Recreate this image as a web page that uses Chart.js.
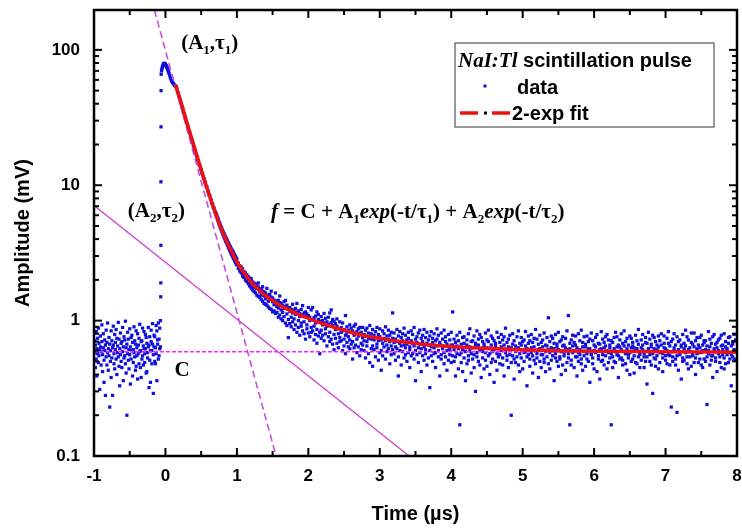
<!DOCTYPE html>
<html><head><meta charset="utf-8">
<script src="https://cdn.jsdelivr.net/npm/chart.js@4.4.0/dist/chart.umd.min.js"></script>
<style>html,body{margin:0;padding:0;background:#fff}#wrap{width:742px;height:528px}canvas{display:block}</style>
</head><body><div id="wrap"><canvas id="c" width="742" height="528"></canvas></div>
<script>
// ---- axis ticks ----
const xMajorTicks = [-1,0,1,2,3,4,5,6,7,8];
const xMinorTicks = [-0.5,0.5,1.5,2.5,3.5,4.5,5.5,6.5,7.5];
const yMajorTicks = [0.1,1,10,100];
const yMinorTicks = [0.2,0.3,0.4,0.5,0.6,0.7,0.8,0.9,2,3,4,5,6,7,8,9,20,30,40,50,60,70,80,90];
const yTickLabels = ['0.1','1','10','100'];

// ---- measured data: rows are [time(us), amplitude(mV), ...] ----
const prePulse = [
[-0.99,.58,.71],[-0.98,.45,.66],[-0.97,.83,.52],[-0.96,.62,.39],[-0.95,.74,.57],[-0.94,.49,.88],[-0.93,.68,.55],[-0.92,.31,.61],[-0.91,.77,.64],[-0.90,.47,.59],
[-0.89,.93,.70],[-0.88,.56,.42],[-0.87,.63,.80],[-0.86,.51,.35],[-0.85,.72,.60],[-0.84,.28,.66],[-0.83,.54,.85],[-0.82,.69,.47],[-0.81,.58,.96],[-0.80,.43,.62],
[-0.79,.75,.55],[-0.78,.23,.67],[-0.77,.60,.50],[-0.76,.84,.38],[-0.75,.53,.71],[-0.74,.28,.63],[-0.73,.66,.91],[-0.72,.48,.57],[-0.71,.79,.44],[-0.70,.61,.69],
[-0.69,.52,.86],[-0.68,.74,.40],[-0.67,.58,.65],[-0.66,.97,.54],[-0.65,.46,.73],[-0.64,.62,.33],[-0.63,.81,.56],[-0.62,.50,.68],[-0.61,.70,.45],[-0.60,.59,.89],
[-0.59,.36,.64],[-0.58,.76,.53],[-0.57,.55,.72],[-0.56,.99,.48],[-0.55,.63,.41],[-0.54,.20,.67],[-0.53,.57,.82],[-0.52,.73,.51],[-0.51,.44,.61],[-0.50,.87,.56],
[-0.49,.64,.34],[-0.48,.52,.75],[-0.47,.78,.60],[-0.46,.39,.69],[-0.45,.61,.49],[-0.44,.90,.58],[-0.43,.54,.71],[-0.42,.67,.43],[-0.41,.46,.84],[-0.40,.63,.55],
[-0.39,.80,.37],[-0.38,.57,.66],[-0.37,.48,.74],[-0.36,.94,.59],[-0.35,.60,.45],[-0.34,.38,.70],[-0.33,.71,.52],[-0.32,.55,.88],[-0.31,.65,.47],[-0.30,.83,.62],
[-0.29,.49,.57],[-0.28,.62,.79],[-0.27,.75,.41],[-0.26,.42,.68],[-0.25,.58,.53],[-0.24,.89,.64],[-0.23,.66,.32],[-0.22,.51,.76],[-0.21,.35,.60],[-0.20,.70,.85],
[-0.19,.60,.48],[-0.18,.95,.67],[-0.17,.29,.56],[-0.16,.64,.78],[-0.15,.76,.50],[-0.14,.48,.63],[-0.13,.57,.92],[-0.12,.84,.36],[-0.11,.67,.72],[-0.10,.52,.96],
[-0.09,.73,.55],[-0.08,.88,.62],[-0.07,1.0,.64]
];
const risingEdge = [[-0.066,1.5],[-0.065,1.9],[-0.064,3.6],[-0.063,10.6],[-0.062,27],[-0.061,50],[-0.06,66]];
const peakArch = [
[-0.055,70],[-0.05,72],[-0.045,74],[-0.04,75.5],[-0.035,77],[-0.03,78],[-0.025,79],[-0.02,79.5],[-0.015,79.5],[-0.01,79],
[-0.005,78.5],[0,78],[0.005,77],[0.01,76.5],[0.015,75.5],[0.02,74.5],[0.025,73.5],[0.03,72.5],[0.035,71],[0.04,70],
[0.045,68.5],[0.05,67],[0.06,64.5],[0.07,62],[0.08,60],[0.09,58.5],[0.1,57.5],[0.11,56.5],[0.12,55.5],[0.13,54.5],[0.14,54]
];
const earlyDecay = [
[0.15,53.5],[0.16,51.6],[0.17,49.1],[0.18,47.4],[0.19,45.0],[0.20,43.5],[0.21,41.4],[0.22,40.1],[0.23,38.0],[0.24,36.9],
[0.25,35.0],[0.26,33.9],[0.27,32.3],[0.28,31.2],[0.29,29.7],[0.30,28.7],[0.31,27.4],[0.32,26.5],[0.33,25.2],[0.34,24.4],
[0.35,23.2],[0.36,22.5],[0.37,21.4],[0.38,20.7],[0.39,19.7],[0.40,19.1],[0.41,18.2],[0.42,17.7],[0.43,16.8],[0.44,16.3],
[0.45,15.5],[0.46,15.1],[0.47,14.3],[0.48,14.0],[0.49,13.3],[0.50,13.0],[0.51,12.3],[0.52,12.0],[0.53,11.4],[0.54,11.2],
[0.55,10.6],[0.56,10.4],[0.57,9.8],[0.58,9.7],[0.59,9.1],[0.60,9.0],[0.61,8.5],[0.62,8.4],[0.63,7.9],[0.64,7.8],
[0.65,7.35],[0.66,7.3],[0.67,6.85],[0.68,6.8],[0.69,6.4],[0.70,6.35]
];
const midDecay = [
[0.71,6.15,5.95],[0.72,5.80,6.0],[0.73,5.75,5.55],[0.74,5.4,5.62],[0.75,5.38,5.15],[0.76,5.0,5.22],[0.77,5.07,4.82],[0.78,4.92,4.7],[0.79,4.55,4.8],[0.80,4.62,4.38],
[0.81,4.5,4.27],[0.82,4.13,4.4],[0.83,4.28,4.02],[0.84,3.88,4.15],[0.85,4.06,3.8],[0.86,3.7,3.95],[0.87,3.86,3.6],[0.88,3.49,3.75],[0.89,3.68,3.4],[0.90,3.3,3.57],
[0.91,3.5,3.22],[0.92,3.12,3.4],[0.93,3.33,3.05],[0.94,2.98,3.26],[0.95,3.2,2.9],[0.96,2.84,3.1],[0.97,3.05,2.76],[0.98,2.7,2.97],[0.99,2.9,2.62],[1.00,2.58,2.85]
];
const tailNoise = [
[1.02,2.66,2.43,2.58],[1.04,2.32,2.54,2.49],[1.06,2.49,2.25,2.38],[1.08,2.20,2.41,2.13],[1.10,2.30,2.08,2.23],[1.12,1.99,2.21,2.25],[1.14,2.18,1.94,2.07],[1.16,1.87,2.11,2.03],[1.18,2.06,1.80,1.89],[1.20,1.74,1.97,2.04],
[1.22,1.93,1.69,1.78],[1.24,1.64,1.89,1.82],[1.26,1.86,1.60,1.75],[1.28,1.54,1.81,1.72],[1.30,1.77,1.51,1.90],[1.32,1.48,1.68,1.63],[1.34,1.72,1.43,1.54],[1.36,1.39,1.65,1.78],[1.38,1.63,1.34,1.52],[1.40,1.32,1.60,1.45],
[1.42,1.73,1.30,1.49],[1.44,1.26,1.54,1.39],[1.46,1.56,1.23,1.44],[1.48,1.21,1.49,1.65],[1.50,1.47,1.16,1.38],[1.52,1.18,1.42,1.31],[1.54,1.60,1.13,1.35],[1.56,1.15,1.40,1.27],[1.58,1.41,1.06,1.24],[1.60,1.10,1.36,1.52],
[1.62,1.34,1.03,1.20],[1.64,1.00,1.29,1.15],[1.66,1.38,1.07,1.23],[1.68,0.96,1.27,1.41],[1.70,1.30,0.92,1.12],[1.72,1.02,1.24,0.75],[1.74,1.25,0.95,1.17],[1.76,0.90,1.21,1.06],[1.78,1.32,0.98,1.14],[1.80,0.86,1.20,1.03],
[1.82,1.23,0.93,1.11],[1.84,0.82,1.15,1.34],[1.86,1.18,0.89,1.00],[1.88,0.78,1.13,1.07],[1.90,1.21,0.91,0.96],[1.92,0.84,1.10,1.29],[1.94,1.14,0.80,0.98],[1.96,0.73,1.08,1.16],[1.98,1.12,0.87,0.93],[2.00,0.81,1.09,1.25],
[2.02,1.06,0.76,1.00],[2.04,0.89,1.20,0.82],[2.06,1.25,0.84,1.02],[2.08,0.72,1.05,0.91],[2.10,1.08,0.79,0.96],[2.12,0.86,1.16,0.68],[2.14,1.02,0.77,1.11],[2.16,0.82,0.99,0.57],[2.18,1.07,0.85,0.74],[2.20,0.78,1.00,0.93],
[2.22,0.96,0.71,1.13],[2.24,0.80,1.04,0.87],[2.26,0.98,0.65,0.91],[2.28,0.76,0.94,1.06],[2.30,1.14,0.82,0.70],[2.32,0.73,0.97,1.20],[2.34,0.92,0.67,1.02],[2.36,0.79,0.99,0.61],[2.38,0.95,0.74,0.86],[2.40,0.68,0.91,1.03],
[2.42,0.87,0.63,0.80],[2.44,0.98,0.75,0.70],[2.46,0.71,0.89,0.82],[2.48,0.84,0.60,0.96],[2.50,0.73,0.86,0.65],[2.52,1.09,0.78,0.57],[2.54,0.69,0.90,0.81],[2.56,0.85,0.64,0.76],[2.58,0.62,0.93,0.72],[2.60,0.82,0.67,0.88],
[2.62,0.70,0.84,0.52],[2.64,0.91,0.63,0.78],[2.66,0.66,0.81,0.94],[2.68,0.83,0.58,0.73],[2.70,0.64,0.87,0.77],[2.72,0.80,0.55,0.89],[2.74,0.68,0.82,0.61],[2.76,0.89,0.66,0.75],[2.78,0.60,0.79,0.71],[2.80,0.77,0.53,0.85],
[2.82,0.65,0.88,0.70],[2.84,0.81,0.57,0.74],[2.86,0.49,0.76,0.92],[2.88,0.73,0.62,0.80],[2.90,0.86,0.65,0.46],[2.92,0.61,0.78,0.72],[2.94,0.75,0.54,0.83],[2.96,0.67,0.89,0.63],[2.98,0.79,0.51,0.71],[3.00,0.58,0.76,0.87],
[3.02,0.72,0.60,0.43],[3.04,0.84,0.68,0.55],[3.06,0.64,0.80,0.74],[3.08,0.52,0.71,0.90],[3.10,0.77,0.59,0.66],[3.12,0.62,0.85,0.73],[3.14,0.70,0.48,0.78],[3.16,0.82,0.65,0.56],[3.18,1.14,0.74,0.61],[3.20,0.57,0.69,0.81],
[3.22,0.73,0.51,0.64],[3.24,0.86,0.62,0.70],[3.26,0.54,0.77,0.39],[3.28,0.68,0.60,0.83],[3.30,0.75,0.47,0.65],[3.32,0.59,0.80,0.71],[3.34,0.66,0.53,0.88],[3.36,0.78,0.63,0.56],[3.38,0.50,0.72,0.67],[3.40,0.82,0.58,0.74],
[3.42,0.64,0.45,0.61],[3.44,0.71,0.84,0.55],[3.46,0.57,0.68,0.79],[3.48,0.89,0.52,0.65],[3.50,0.60,0.73,0.36],[3.52,0.76,0.56,0.69],[3.54,0.49,0.81,0.63],[3.56,0.67,0.58,0.85],[3.58,0.74,0.42,0.62],[3.60,0.55,0.70,0.78],
[3.62,0.86,0.51,0.64],[3.64,0.61,0.75,0.57],[3.66,0.68,0.47,0.82],[3.68,0.53,0.72,0.66],[3.70,0.77,0.60,0.32],[3.72,0.64,0.83,0.55],[3.74,0.50,0.69,0.74],[3.76,0.80,0.57,0.63],[3.78,0.58,0.45,0.71],[3.80,0.73,0.65,0.87],
[3.82,0.54,0.78,0.60],[3.84,0.67,0.39,0.69],[3.86,0.81,0.56,0.52],[3.88,0.62,0.73,0.65],[3.90,0.48,0.85,0.58],[3.92,0.70,0.54,0.76],[3.94,0.60,0.67,0.43],[3.96,0.79,0.51,0.64],[3.98,0.56,0.72,0.61],[4.00,0.66,0.49,0.82],
[4.02,1.16,0.55,0.66],[4.04,0.50,0.73,0.61],[4.06,0.69,0.39,0.54],[4.08,0.57,0.78,0.65],[4.10,0.44,0.62,0.71],[4.12,0.17,0.56,0.82],[4.14,0.67,0.49,0.58],[4.16,0.75,0.61,0.42],[4.18,0.53,0.68,0.76],[4.20,0.63,0.36,0.59],
[4.22,0.48,0.72,0.66],[4.24,0.80,0.55,0.51],[4.26,0.60,0.64,0.87],[4.28,0.41,0.70,0.57],[4.30,0.71,0.52,0.63],[4.32,0.56,0.77,0.45],[4.34,0.65,0.30,0.68],[4.36,0.84,0.58,0.54],[4.38,0.50,0.66,0.73],[4.40,0.61,0.47,0.79],
[4.42,0.75,0.62,0.38],[4.44,0.53,0.70,0.59],[4.46,0.67,0.44,0.64],[4.48,0.58,0.81,0.51],[4.50,0.46,0.63,0.72],[4.52,0.70,0.55,0.85],[4.54,0.62,0.40,0.57],[4.56,0.77,0.66,0.49],[4.58,0.52,0.59,0.74],[4.60,0.35,0.71,0.61],
[4.62,0.65,0.50,0.68],[4.64,0.82,0.57,0.43],[4.66,0.54,0.75,0.62],[4.68,0.69,0.48,0.56],[4.70,0.60,0.64,0.79],[4.72,0.47,0.72,0.53],[4.74,0.76,0.39,0.66],[4.76,0.58,0.61,0.88],[4.78,0.51,0.69,0.55],[4.80,0.64,0.45,0.73],
[4.82,0.78,0.56,0.60],[4.84,0.20,0.63,0.49],[4.86,0.55,0.80,0.67],[4.88,0.71,0.52,0.37],[4.90,0.49,0.65,0.59],[4.92,0.62,0.76,0.54],[4.94,0.84,0.47,0.63],[4.96,0.57,0.68,0.42],[4.98,0.66,0.53,0.75],[5.00,0.44,0.61,0.70],
[5.02,0.72,0.50,0.58],[5.04,0.59,0.83,0.65],[5.06,0.33,0.62,0.54],[5.08,0.68,0.56,0.77],[5.10,0.52,0.71,0.46],[5.12,0.79,0.58,0.63],[5.14,0.55,0.41,0.69],[5.16,0.64,0.74,0.51],[5.18,0.48,0.60,0.86],[5.20,0.73,0.53,0.57],
[5.22,0.61,0.67,0.38],[5.24,0.50,0.78,0.62],[5.26,0.69,0.45,0.56],[5.28,0.56,0.64,0.72],[5.30,0.81,0.52,0.49],[5.32,0.42,0.59,0.66],[5.34,0.65,0.75,0.54],[5.36,1.05,0.48,0.61],[5.38,0.58,0.70,0.44],[5.40,0.51,0.63,0.77],
[5.42,0.74,0.55,0.60],[5.44,0.62,0.36,0.68],[5.46,0.53,0.79,0.57],[5.48,0.67,0.50,0.64],[5.50,0.46,0.61,0.82],[5.52,0.70,0.54,0.52],[5.54,0.59,0.72,0.40],[5.56,0.76,0.47,0.65],[5.58,0.55,0.66,0.58],[5.60,0.63,0.43,0.74],
[5.62,0.49,0.84,0.61],[5.64,1.09,0.57,0.53],[5.66,0.17,0.68,0.62],[5.68,0.72,0.51,0.47],[5.70,0.58,0.65,0.78],[5.72,0.45,0.60,0.69],[5.74,0.66,0.77,0.54],[5.76,0.54,0.39,0.63],[5.78,0.80,0.58,0.50],[5.80,0.61,0.71,0.56],
[5.82,0.48,0.52,0.85],[5.84,0.69,0.64,0.43],[5.86,0.55,0.76,0.59],[5.88,0.64,0.46,0.67],[5.90,0.77,0.57,0.52],[5.92,0.50,0.70,0.62],[5.94,0.62,0.35,0.73],[5.96,0.56,0.81,0.58],[5.98,0.71,0.53,0.48],[6.00,0.44,0.66,0.60],
[6.02,0.75,0.58,0.64],[6.04,0.59,0.42,0.79],[6.06,0.52,0.68,0.55],[6.08,0.67,0.61,0.37],[6.10,0.83,0.50,0.62],[6.12,0.56,0.73,0.51],[6.14,0.47,0.63,0.69],[6.16,0.65,0.55,0.76],[6.18,0.60,0.79,0.44],[6.20,0.72,0.49,0.58],
[6.22,0.53,0.66,0.63],[6.24,0.17,0.57,0.71],[6.26,0.69,0.45,0.54],[6.28,0.62,0.75,0.50],[6.30,0.49,0.59,0.82],[6.32,0.76,0.64,0.56],[6.34,0.55,0.38,0.66],[6.36,0.64,0.72,0.52],[6.38,0.80,0.53,0.61],[6.40,0.51,0.68,0.47],
[6.42,0.59,0.84,0.65],[6.44,0.70,0.48,0.57],[6.46,0.43,0.62,0.74],[6.48,0.66,0.56,0.53],[6.50,0.58,0.77,0.40],[6.52,0.74,0.50,0.63],[6.54,0.52,0.65,0.69],[6.56,0.63,0.41,0.55],[6.58,0.78,0.60,0.49],[6.60,0.48,0.71,0.62],
[6.62,0.67,0.54,0.86],[6.64,0.56,0.45,0.58],[6.66,0.72,0.63,0.51],[6.68,0.61,0.79,0.66],[6.70,0.45,0.57,0.54],[6.72,0.69,0.50,0.75],[6.74,0.54,0.68,0.34],[6.76,0.82,0.60,0.62],[6.78,0.50,0.73,0.56],[6.80,0.64,0.47,0.67],
[6.82,0.57,0.29,0.78],[6.84,0.75,0.62,0.53],[6.86,0.52,0.70,0.46],[6.88,0.66,0.55,0.61],[6.90,0.44,0.77,0.64],[6.92,0.71,0.58,0.49],[6.94,0.59,0.66,0.80],[6.96,0.53,0.42,0.57],[6.98,0.77,0.63,0.68],[7.00,0.62,0.51,0.55],
[7.02,0.48,0.74,0.60],[7.04,0.68,0.56,0.83],[7.06,0.55,0.65,0.47],[7.08,0.23,0.59,0.70],[7.10,0.73,0.50,0.54],[7.12,0.60,0.80,0.63],[7.14,0.47,0.66,0.52],[7.16,0.21,0.55,0.76],[7.18,0.70,0.61,0.43],[7.20,0.56,0.72,0.59],
[7.22,0.64,0.37,0.66],[7.24,0.79,0.53,0.50],[7.26,0.51,0.68,0.62],[7.28,0.65,0.58,0.85],[7.30,0.54,0.76,0.48],[7.32,0.72,0.44,0.61],[7.34,0.59,0.63,0.54],[7.36,0.46,0.81,0.69],[7.38,0.67,0.55,0.56],[7.40,0.81,0.49,0.64],
[7.42,0.53,0.71,0.40],[7.44,0.62,0.57,0.75],[7.46,0.49,0.66,0.58],[7.48,0.75,0.52,0.63],[7.50,0.58,0.78,0.47],[7.52,0.66,0.45,0.60],[7.54,0.52,0.69,0.71],[7.56,0.71,0.61,0.50],[7.58,0.24,0.54,0.65],[7.60,0.60,0.83,0.57],
[7.62,0.47,0.64,0.73],[7.64,0.68,0.51,0.55],[7.66,0.55,0.76,0.38],[7.68,0.79,0.59,0.62],[7.70,0.50,0.67,0.53],[7.72,0.63,0.42,0.69],[7.74,0.57,0.72,0.60],[7.76,0.74,0.54,0.49],[7.78,0.45,0.65,0.78],[7.80,0.66,0.56,0.61],
[7.82,0.53,0.80,0.44],[7.84,0.70,0.48,0.64],[7.86,0.61,0.62,0.56],[7.88,0.49,0.75,0.68],[7.90,0.76,0.58,0.52],[7.92,0.56,0.33,0.65],[7.94,0.67,0.70,0.54],[7.96,0.52,0.61,0.79],[7.98,0.72,0.51,0.59]
];

// ---- 2-exponential fit curve ----
const fitTime = [0.14,0.2,0.3,0.4,0.5,0.6,0.7,0.8,0.9,1.0,1.1,1.2,1.3,1.4,1.5,1.6,1.7,1.8,1.9,2.0,2.2,2.4,2.6,2.8,3.0,3.3,3.6,4.0,4.5,5.0,5.5,6.0,7.0,8.0];
const fitAmp  = [55,44,29,19.5,13,8.9,6.2,4.5,3.45,2.72,2.25,1.92,1.7,1.53,1.41,1.3,1.22,1.15,1.09,1.04,0.95,0.88,0.82,0.77,0.74,0.70,0.67,0.645,0.625,0.61,0.60,0.595,0.59,0.585];

// ---- component guide lines (end points) ----
const tau1Line = [[-0.154,197],[1.548,0.1]];
const tau2Line = [[-1,7.1],[3.41,0.1]];
const constLine = [[-1,0.59],[8,0.59]];

const toPts = rows => rows.flatMap(r => r.slice(1).map(v => ({x:r[0], y:v})));
const pairPts = rows => rows.map(r => ({x:r[0], y:r[1]}));
const dataPts = [].concat(toPts(prePulse), toPts(risingEdge), toPts(peakArch), toPts(earlyDecay), toPts(midDecay), toPts(tailNoise));
const fitPts = fitTime.map((t,i) => ({x:t, y:fitAmp[i]}));

const SANS = '"Liberation Sans", Arial, sans-serif';
const SERIF = '"Liberation Serif", "Times New Roman", serif';

function drawRuns(ctx, x, y, runs){
  ctx.textAlign='left'; ctx.textBaseline='alphabetic';
  for(const r of runs){ ctx.font=r.f; ctx.fillText(r.t, x, y+(r.dy||0)); x+=ctx.measureText(r.t).width; }
}
const B = 'bold 21px '+SERIF, BI = 'italic bold 21px '+SERIF, SUB = 'bold 13px '+SERIF;

const decor = {
  id:'decor',
  afterDraw(chart){
    const {ctx, chartArea:a, scales:{x, y}} = chart;
    ctx.save();
    ctx.strokeStyle='#000'; ctx.lineWidth=2;
    const tick=(x1,y1,x2,y2)=>{ctx.beginPath();ctx.moveTo(x1,y1);ctx.lineTo(x2,y2);ctx.stroke();};
    for(const v of xMajorTicks){const p=x.getPixelForValue(v); tick(p,a.bottom,p,a.bottom-8); tick(p,a.top,p,a.top+8);}
    for(const v of xMinorTicks){const p=x.getPixelForValue(v); tick(p,a.bottom,p,a.bottom-5); tick(p,a.top,p,a.top+5);}
    for(const v of yMajorTicks){const p=y.getPixelForValue(v); tick(a.left,p,a.left+8,p); tick(a.right,p,a.right-8,p);}
    for(const v of yMinorTicks){const p=y.getPixelForValue(v); tick(a.left,p,a.left+5,p); tick(a.right,p,a.right-5,p);}
    ctx.lineWidth=2.5; ctx.strokeRect(a.left,a.top,a.right-a.left,a.bottom-a.top);

    // annotations
    ctx.fillStyle='#000';
    drawRuns(ctx, x.getPixelForValue(0.22), y.getPixelForValue(114)+7, [{t:'(A',f:B},{t:'1',f:SUB,dy:5},{t:',τ',f:B},{t:'1',f:SUB,dy:5},{t:')',f:B}]);
    drawRuns(ctx, x.getPixelForValue(-0.527), y.getPixelForValue(6.6)+7, [{t:'(A',f:B},{t:'2',f:SUB,dy:5},{t:',τ',f:B},{t:'2',f:SUB,dy:5},{t:')',f:B}]);
    drawRuns(ctx, x.getPixelForValue(1.478), y.getPixelForValue(6.4)+7, [
      {t:'f',f:BI},{t:' = C + A',f:B},{t:'1',f:SUB,dy:5},{t:'exp',f:BI},{t:'(-t/τ',f:B},{t:'1',f:SUB,dy:5},
      {t:') + A',f:B},{t:'2',f:SUB,dy:5},{t:'exp',f:BI},{t:'(-t/τ',f:B},{t:'2',f:SUB,dy:5},{t:')',f:B}]);
    drawRuns(ctx, x.getPixelForValue(0.126), y.getPixelForValue(0.44)+7, [{t:'C',f:B}]);

    // legend box
    const L=455, T=43, R=714, Bt=127;
    ctx.fillStyle='#fff'; ctx.fillRect(L,T,R-L,Bt-T);
    ctx.strokeStyle='#555'; ctx.lineWidth=1.2; ctx.strokeRect(L,T,R-L,Bt-T);
    ctx.fillStyle='#000';
    drawRuns(ctx, 458, 67, [{t:'NaI:Tl',f:BI},{t:' scintillation pulse',f:'bold 20px '+SANS}]);
    ctx.fillStyle='#1010dc'; ctx.fillRect(483.5,84.5,3,3);
    ctx.fillStyle='#000';
    drawRuns(ctx, 517, 94, [{t:'data',f:'bold 20px '+SANS}]);
    ctx.strokeStyle='#ee1111'; ctx.lineWidth=3.5;
    tick(460,113,478,113); tick(492,113,510,113);
    ctx.fillStyle='#000'; ctx.fillRect(484,111.5,3,3);
    drawRuns(ctx, 512, 120, [{t:'2-exp fit',f:'bold 20px '+SANS}]);
    ctx.restore();
  }
};

Chart.defaults.font.family = SANS;
Chart.defaults.color = '#000';
new Chart(document.getElementById('c'), {
  type:'scatter',
  data:{datasets:[
    {label:'2-exp fit', data:fitPts, showLine:true, borderColor:'#ee1111', borderWidth:3.5, pointRadius:0, cubicInterpolationMode:'monotone'},
    {label:'C', data:pairPts(constLine), showLine:true, borderColor:'#ff22ff', borderWidth:1.5, borderDash:[4,2], pointRadius:0},
    {label:'A1,tau1', data:pairPts(tau1Line), showLine:true, borderColor:'#c84ee0', borderWidth:1.6, borderDash:[7,4], pointRadius:0},
    {label:'A2,tau2', data:pairPts(tau2Line), showLine:true, borderColor:'#cc33cc', borderWidth:1.2, pointRadius:0},
    {label:'data', data:dataPts, pointStyle:'rect', pointRadius:2.3, backgroundColor:'#1010dc', borderWidth:0, showLine:false}
  ]},
  options:{
    responsive:false, animation:false, events:[],
    layout:{padding:{left:0,right:5,top:10,bottom:0}},
    plugins:{legend:{display:false}, tooltip:{enabled:false}},
    scales:{
      x:{type:'linear', min:-1, max:8,
         grid:{display:false, drawTicks:false}, border:{display:false},
         ticks:{stepSize:1, padding:10, autoSkip:false, maxRotation:0, font:{size:17, weight:'bold'}, color:'#000'},
         title:{display:true, text:'Time (µs)', font:{size:20, weight:'bold'}, color:'#000', padding:{top:0,bottom:2}},
         afterFit(s){ s.height = 72; s.paddingLeft = 0; s.paddingRight = 0; }},
      y:{type:'logarithmic', min:0.1, max:197,
         grid:{display:false, drawTicks:false}, border:{display:false},
         ticks:{padding:14, autoSkip:false, font:{size:17, weight:'bold'}, color:'#000',
           callback:(v)=>{ const s=String(+Number(v).toPrecision(6)); return yTickLabels.includes(s)?s:''; }},
         title:{display:true, text:'Amplitude (mV)', font:{size:20, weight:'bold'}, color:'#000', padding:{top:11,bottom:0}},
         afterFit(s){ s.width = 94; s.paddingTop = 0; s.paddingBottom = 0; }}
    }
  },
  plugins:[decor]
});
</script></body></html>
